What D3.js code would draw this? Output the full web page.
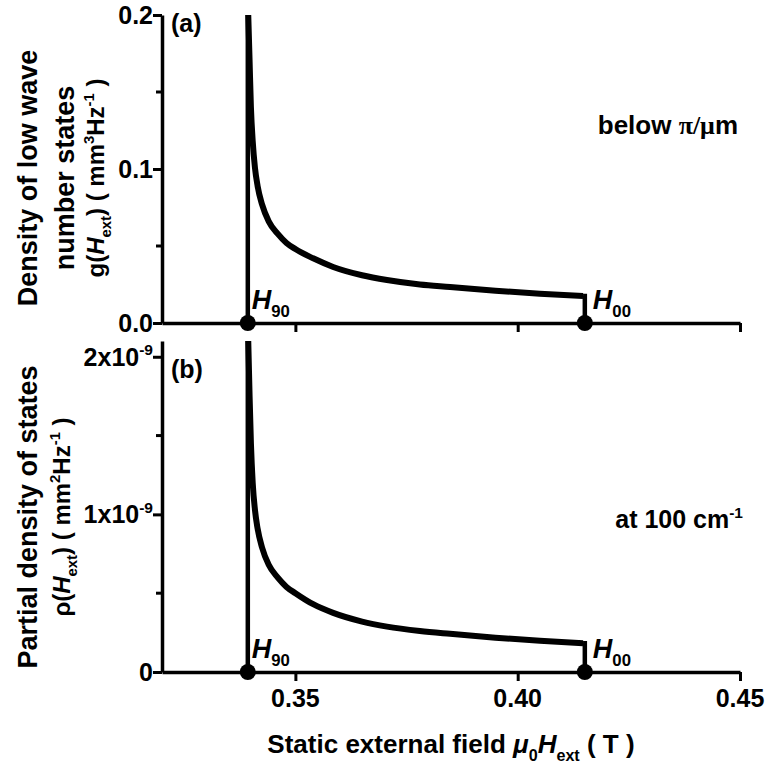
<!DOCTYPE html>
<html>
<head>
<meta charset="utf-8">
<script src="https://cdn.jsdelivr.net/npm/d3@7"></script>
<style>
  body { margin: 0; background: #fff; }
  text { font-family: "Liberation Sans", Arial, sans-serif; font-weight: bold; fill: #000; }
</style>
</head>
<body>
<svg width="768" height="767"></svg>
<script>
// data
const fieldA = [0.3394, 0.3397, 0.3400, 0.3404, 0.3409, 0.3415, 0.3425, 0.3440, 0.3460, 0.3480, 0.3500, 0.3540, 0.3585, 0.3650, 0.3706, 0.3780, 0.3848, 0.3950, 0.4050, 0.4147];
const gA = [0.200, 0.170, 0.140, 0.118, 0.101, 0.089, 0.077, 0.066, 0.058, 0.052, 0.048, 0.042, 0.0364, 0.031, 0.0279, 0.025, 0.0234, 0.021, 0.019, 0.0175];
const fieldB = [0.3394, 0.3397, 0.3400, 0.3404, 0.3409, 0.3415, 0.3425, 0.3440, 0.3460, 0.3480, 0.3500, 0.3540, 0.3585, 0.3650, 0.3706, 0.3780, 0.3848, 0.3950, 0.4050, 0.4147];
const rhoB = [2.1e-9, 1.75e-9, 1.45e-9, 1.2e-9, 1.03e-9, 0.91e-9, 0.79e-9, 0.68e-9, 0.6e-9, 0.54e-9, 0.5e-9, 0.43e-9, 0.375e-9, 0.32e-9, 0.288e-9, 0.26e-9, 0.242e-9, 0.218e-9, 0.198e-9, 0.182e-9];
const H90 = 0.3393;
const H00 = 0.4151;
const markerSubs = ["90", "00"];
const xTicks = [0.35, 0.40, 0.45];
const xTickLabels = ["0.35", "0.40", "0.45"];
const yTicksA = [0, 0.1, 0.2];
const yTickLabelsA = ["0.0", "0.1", "0.2"];
const yMinorA = [0.05, 0.15];
const yTicksB = [0, 1e-9, 2e-9];
const yTickLabelsB = [["0", ""], ["1x10", "-9"], ["2x10", "-9"]];
const yMinorB = [0.5e-9, 1.5e-9];

const svg = d3.select('svg');

const x = d3.scaleLinear().domain([0.32, 0.45]).range([162, 740]);
const yA = d3.scaleLinear().domain([0, 0.2]).range([323, 15]);
const yB = d3.scaleLinear().domain([0, 2.1e-9]).range([672, 341]);

// rich text helper: parts = [[text, style]]
function rich(sel, parts, size) {
  parts.forEach(([t, s]) => {
    const ts = sel.append('tspan').text(t);
    if (s === 'i') ts.attr('font-style', 'italic');
    if (s === 'sub') ts.attr('font-size', size * 0.62).attr('dy', size * 0.3);
    if (s === 'sup') ts.attr('font-size', size * 0.62).attr('dy', -size * 0.42);
    if (s === 'serif') ts.attr('font-family', '"Liberation Serif", serif');
    if (s === 'down') ts.attr('dy', size * 0.42);
    if (s === 'up') ts.attr('dy', -size * 0.3);
    if (s === 'iup') ts.attr('dy', -size * 0.3).attr('font-style', 'italic');
  });
  return sel;
}

function panel(y, field, vals, ticks, minor, top, bottom, id) {
  const g = svg.append('g');

  g.append('clipPath').attr('id', id)
    .append('rect').attr('x', 162).attr('y', top).attr('width', 580).attr('height', bottom - top + 2);

  // y axis
  const ya = g.append('g').attr('transform', 'translate(162,0)')
    .call(d3.axisLeft(y).tickValues(ticks).tickSize(9).tickSizeOuter(0).tickFormat(''));
  ya.append('g').selectAll('line').data(minor).join('line')
    .attr('x1', -6).attr('x2', 0).attr('y1', d => y(d)).attr('y2', d => y(d))
    .attr('stroke', '#000').attr('stroke-width', 3);

  // x axis
  const xa = g.append('g').attr('transform', `translate(0,${bottom})`)
    .call(d3.axisBottom(x).tickValues(xTicks).tickSize(9).tickSizeOuter(0).tickFormat(''));

  [ya, xa].forEach(a => {
    a.select('.domain').attr('stroke-width', 3.5);
    a.selectAll('.tick line').attr('stroke-width', 3);
  });

  const line = d3.line().x(d => x(d[0])).y(d => y(d[1]));
  const pts = field.map((f, i) => [f, vals[i]]);

  const plot = g.append('g').attr('clip-path', `url(#${id})`);
  plot.append('path')
    .attr('d', line([[H90, 0], [H90, y.domain()[1]]]))
    .attr('fill', 'none').attr('stroke', '#000').attr('stroke-width', 4.5);
  plot.append('path')
    .attr('d', line.curve(d3.curveMonotoneX)(pts))
    .attr('fill', 'none').attr('stroke', '#000').attr('stroke-width', 6);
  const last = pts[pts.length - 1];
  plot.append('path')
    .attr('d', d3.line().x(d => x(d[0])).y(d => y(d[1]))([[last[0], last[1]], [H00, last[1]], [H00, 0]]))
    .attr('fill', 'none').attr('stroke', '#000').attr('stroke-width', 4.5);

  // markers
  g.selectAll('circle.m').data([H90, H00]).join('circle')
    .attr('cx', d => x(d)).attr('cy', y(0)).attr('r', 8).attr('fill', '#000');

  [H90, H00].forEach((h, i) => {
    const t = g.append('text')
      .attr('x', x(h) + (i === 0 ? 4 : 8)).attr('y', bottom - 14)
      .attr('font-size', 27);
    rich(t, [['H', 'i'], [markerSubs[i], 'sub']], 27);
  });
  return g;
}

const pa = panel(yA, fieldA, gA, yTicksA, yMinorA, 15, 323, 'clipA');
const pb = panel(yB, fieldB, rhoB, yTicksB, yMinorB, 341, 672, 'clipB');

// tick labels
yTicksA.forEach((v, i) => {
  svg.append('text').attr('x', 153).attr('y', yA(v) + 9).attr('text-anchor', 'end')
    .attr('font-size', 25).text(yTickLabelsA[i]);
});
yTicksB.forEach((v, i) => {
  const t = svg.append('text').attr('x', 153).attr('y', yB(v) + 9).attr('text-anchor', 'end')
    .attr('font-size', 25);
  if (yTickLabelsB[i][1]) rich(t, [[yTickLabelsB[i][0], 'n'], [yTickLabelsB[i][1], 'sup']], 25);
  else t.text(yTickLabelsB[i][0]);
});
xTicks.forEach((v, i) => {
  svg.append('text').attr('x', x(v)).attr('y', 707).attr('text-anchor', 'middle')
    .attr('font-size', 25).text(xTickLabels[i]);
});

// panel letters and notes
svg.append('text').attr('x', 171).attr('y', 32).attr('font-size', 25).text('(a)');
svg.append('text').attr('x', 171).attr('y', 378).attr('font-size', 25).text('(b)');

rich(svg.append('text').attr('x', 738).attr('y', 134).attr('text-anchor', 'end').attr('font-size', 26),
  [['below ', 'n'], ['\u03c0/\u03bc', 'serif'], ['m', 'n']], 26);
rich(svg.append('text').attr('x', 743).attr('y', 528).attr('text-anchor', 'end').attr('font-size', 25),
  [['at 100 cm', 'n'], ['-1', 'sup']], 25);

// axis titles
rich(svg.append('text').attr('x', 451).attr('y', 753).attr('text-anchor', 'middle').attr('font-size', 26),
  [['Static external field ', 'n'], ['\u03bc', 'i'], ['0', 'sub'], ['H', 'iup'], ['ext', 'sub'], [' ( T )', 'up']], 26);

function ytitle(lines, cy) {
  lines.forEach(([bx, parts, size]) => {
    const t = svg.append('text')
      .attr('transform', `translate(${bx},${cy}) rotate(-90)`)
      .attr('text-anchor', 'middle').attr('font-size', size);
    rich(t, parts, size);
  });
}
ytitle([
  [37, [['Density of low wave', 'n']], 27],
  [74, [['number states', 'n']], 27],
  [104, [['g(', 'n'], ['H', 'i'], ['ext', 'sub'], [') ( mm', 'up'], ['3', 'sup'], ['Hz', 'down'], ['-1', 'sup'], [' )', 'down']], 24]
], 178);
ytitle([
  [37, [['Partial density of states', 'n']], 27],
  [70, [['\u03c1(', 'n'], ['H', 'i'], ['ext', 'sub'], [') ( mm', 'up'], ['2', 'sup'], ['Hz', 'down'], ['-1', 'sup'], [' )', 'down']], 24]
], 517);
</script>
</body>
</html>
